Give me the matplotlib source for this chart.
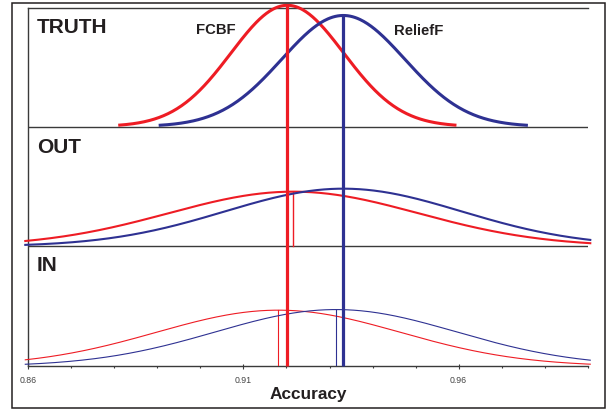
import numpy as np
import matplotlib
matplotlib.use("Agg")
import matplotlib.pyplot as plt
from matplotlib.patches import Rectangle
from matplotlib.ticker import FixedLocator, NullFormatter

# ---- data ----
methods = ["FCBF", "ReliefF"]
colors = ["#ee1c24", "#2e3192"]
truth_mean = [0.9202, 0.9332]
truth_sd = [0.0131, 0.0143]
out_mean = [0.9216, 0.9332]
out_sd = [0.0290, 0.0275]
in_mean = [0.9181, 0.9315]
in_sd = [0.0283, 0.0280]
panel_names = ["TRUTH", "OUT", "IN"]
major_ticks = [0.86, 0.91, 0.96]
major_labels = ["0.86", "0.91", "0.96"]
minor_ticks = [0.87, 0.88, 0.89, 0.90, 0.92, 0.93, 0.94, 0.95, 0.97, 0.98, 0.99]
x_range = (0.86, 0.99)
curve_range = (0.8593, 0.9906)

plt.rcParams['font.family'] = ['Liberation Sans', 'DejaVu Sans']

def pdf(x, m, s):
    return np.exp(-0.5 * ((x - m) / s) ** 2) / (s * np.sqrt(2 * np.pi))

fig = plt.figure(figsize=(6.13, 4.10), dpi=100)
W, H = 613.0, 410.0
ax_l, ax_r, ax_t, ax_b = 28.3, 587.7, 9.3, 367.3
ax = fig.add_axes([ax_l / W, 1 - ax_b / H, (ax_r - ax_l) / W, (ax_b - ax_t) / H])

# outer border
fig.patches.append(Rectangle((12 / W, 1 - 409 / H), (605 - 12) / W, (409 - 4) / H,
                             transform=fig.transFigure, fill=False,
                             edgecolor="#231f20", linewidth=1.1))

panel_h = 30.1
base_in, base_out, base_truth = 0.0, panel_h, 2 * panel_h
ax.set_xlim(*x_range)
ax.set_ylim(0, 3 * panel_h - 0.4)

# TRUTH curves (+-3 sd)
for m, s, c in zip(truth_mean, truth_sd, colors):
    x = np.linspace(m - 3 * s, m + 3 * s, 300)
    ax.plot(x, base_truth + pdf(x, m, s), color=c, lw=2.2, clip_on=False,
            solid_capstyle='butt', zorder=3)

# thick mean lines from truth peak to IN baseline
for m, s, c in zip(truth_mean, truth_sd, colors):
    ax.plot([m, m], [base_in, base_truth + pdf(m, m, s)], color=c, lw=2.3,
            clip_on=False, solid_capstyle='butt', zorder=4)

xx = np.linspace(curve_range[0], curve_range[1], 400)
# OUT curves
for m, s, c in zip(out_mean, out_sd, colors):
    ax.plot(xx, base_out + pdf(xx, m, s), color=c, lw=1.5, clip_on=False, zorder=3)
    ax.plot([m, m], [base_out, base_out + pdf(m, m, s)], color=c, lw=1.0, zorder=3)
# IN curves
for m, s, c in zip(in_mean, in_sd, colors):
    ax.plot(xx, base_in + pdf(xx, m, s), color=c, lw=0.8, clip_on=False, zorder=3)
    ax.plot([m, m], [base_in, base_in + pdf(m, m, s)], color=c, lw=0.8, zorder=3)

# panel separators
for b in (base_out, base_truth):
    ax.axhline(b, color="#3a3a3a", lw=1.0, zorder=2)

for side in ("left", "top", "bottom"):
    ax.spines[side].set_color("#3a3a3a")
    ax.spines[side].set_linewidth(1.0)
ax.spines["right"].set_visible(False)

ax.xaxis.set_major_locator(FixedLocator(major_ticks))
ax.set_xticklabels(major_labels)
ax.xaxis.set_minor_locator(FixedLocator(minor_ticks))
ax.xaxis.set_minor_formatter(NullFormatter())
ax.tick_params(axis='x', which='major', direction='inout', length=3.6, width=0.8,
               color="#3a3a3a", labelsize=6.3, labelcolor="#444444", pad=4.5)
ax.tick_params(axis='x', which='minor', direction='out', length=1.6, width=0.8,
               color="#3a3a3a")
ax.set_yticks([])

txt = "#231f20"
for name, yb in zip(panel_names, [0.934, 0.598, 0.269]):
    ax.text(0.015, yb, name, transform=ax.transAxes, ha='left', va='baseline',
            fontsize=15, fontweight='bold', color=txt)
ax.text(0.2998, 0.931, methods[0], transform=ax.transAxes, ha='left', va='baseline',
        fontsize=10.7, fontweight='bold', color=txt)
ax.text(0.6537, 0.928, methods[1], transform=ax.transAxes, ha='left', va='baseline',
        fontsize=10.7, fontweight='bold', color=txt)

fig.text(308 / W, 1 - 399 / H, "Accuracy", ha='center', va='baseline',
         fontsize=12.4, fontweight='bold', color=txt)

fig.savefig("out.png", dpi=100)
